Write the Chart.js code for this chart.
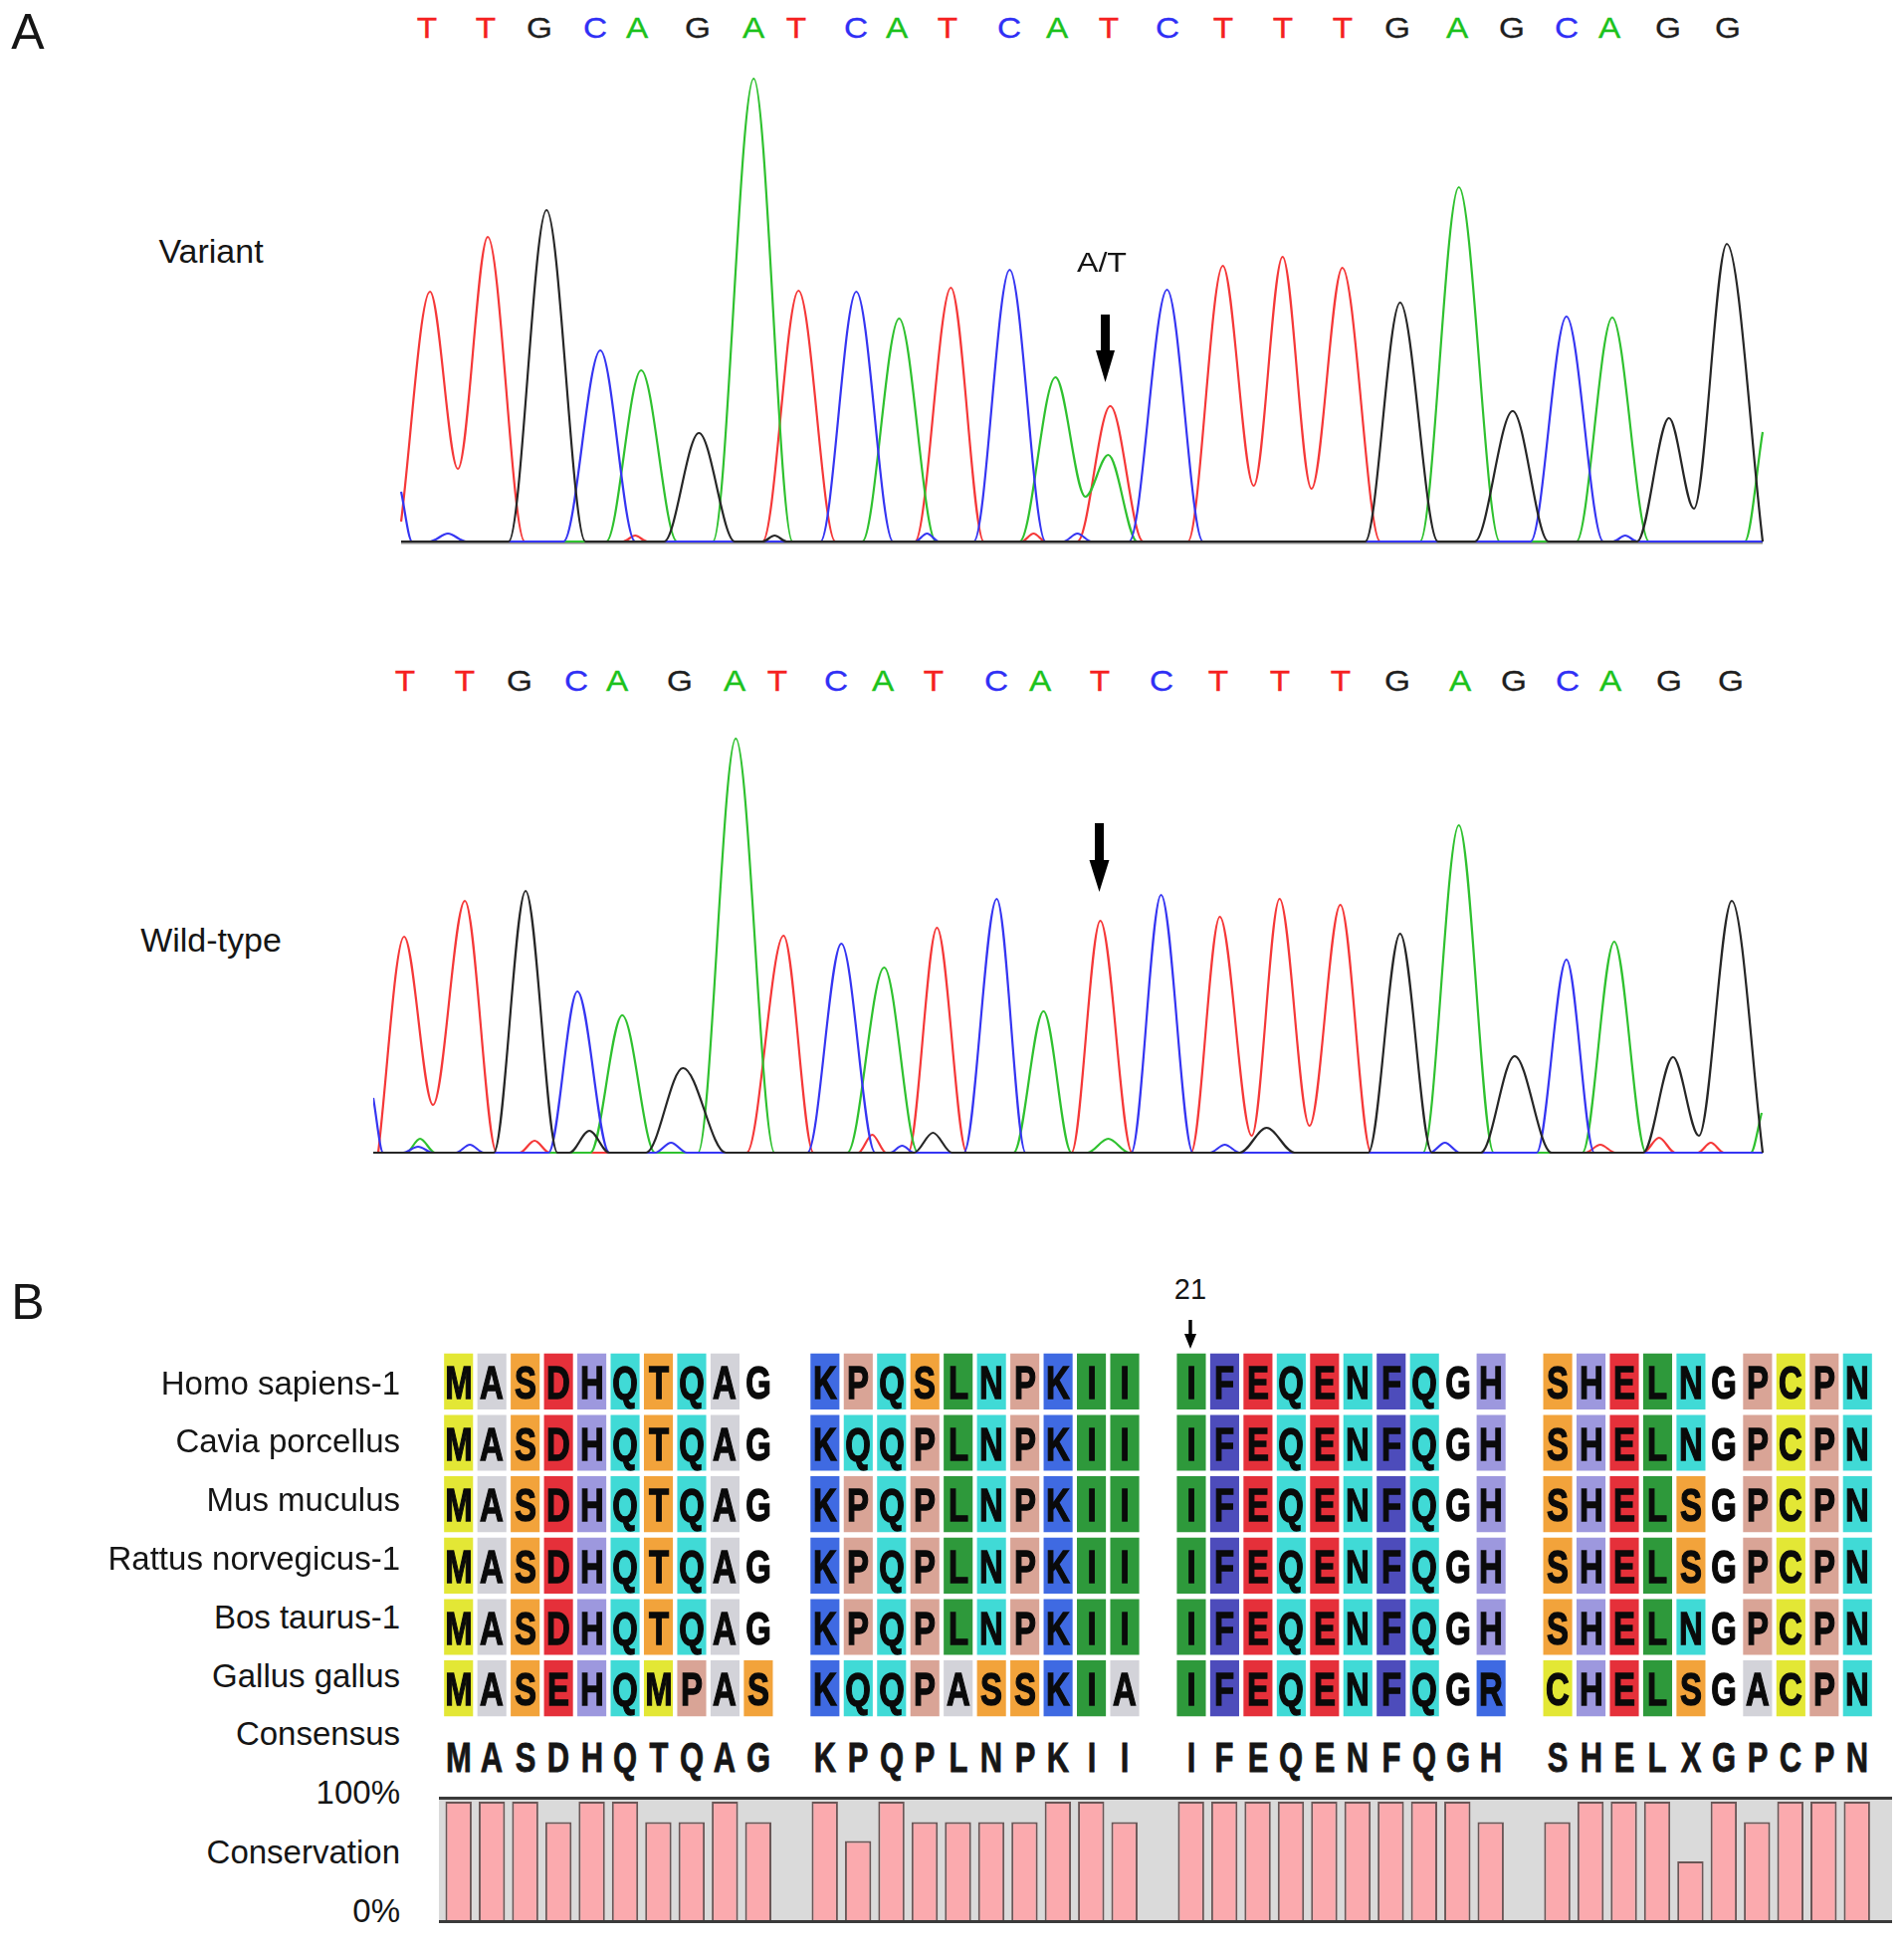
<!DOCTYPE html>
<html>
<head>
<meta charset="utf-8">
<script src="https://cdn.jsdelivr.net/npm/chart.js@4.4.1/dist/chart.umd.min.js"></script>
<style>
  body { margin: 0; background: #fff; }
  #fig { position: relative; width: 1913px; height: 1956px; overflow: hidden;
         font-family: "Liberation Sans", Arial, Helvetica, sans-serif; color: #151515; }
  #fig canvas { position: absolute; }
  .lbl { position: absolute; white-space: nowrap; line-height: 1; }
</style>
</head>
<body>
<div id="fig"></div>
<script>
// ---- Panel A: sequencing traces, [scan, signal] ----
const variantT = [[3, 20], [32, 251], [60, 73], [90, 306], [127, 0], [226, 0], [238, 6], [250, 0],
  [366, 0], [402, 252], [439, 0], [519, 0], [555, 255], [588, 0], [626, 0], [638, 8], [650, 0],
  [682, 0], [715, 136], [748, 0], [793, 0], [828, 277], [859, 56], [888, 286], [917, 53],
  [948, 275], [986, 0], [1370, 0]];
const variantC = [[3, 50], [14, 0], [32, 0], [50, 8], [68, 0], [166, 0], [203, 192], [238, 0],
  [424, 0], [460, 251], [497, 0], [519, 0], [531, 8], [543, 0], [578, 0], [614, 273], [650, 0],
  [668, 0], [682, 8], [696, 0], [734, 0], [772, 253], [808, 0], [1137, 0], [1173, 226], [1210, 0],
  [1220, 0], [1232, 6], [1244, 0], [1370, 0]];
const variantA = [[3, 0], [209, 0], [244, 172], [280, 0], [316, 0], [357, 465], [396, 0],
  [466, 0], [503, 224], [540, 0], [624, 0], [660, 165], [690, 45], [713, 87], [742, 0],
  [1026, 0], [1065, 356], [1106, 0], [1183, 0], [1219, 225], [1256, 0], [1352, 0], [1370, 110]];
const variantG = [[3, 0], [111, 0], [149, 333], [188, 0], [267, 0], [302, 109], [338, 0],
  [366, 0], [378, 6], [390, 0], [971, 0], [1006, 240], [1044, 0], [1081, 0], [1119, 131], [1155, 0],
  [1244, 0], [1276, 124], [1301, 33], [1334, 299], [1370, 0]];

const wildT = [[-20, 0], [6, 217], [35, 48], [67, 253], [99, 0], [122, 0], [137, 12], [152, 0],
  [350, 0], [387, 218], [417, 0], [462, 0], [476, 18], [490, 0], [512, 0], [541, 226], [571, 0],
  [676, 0], [705, 233], [737, 0], [796, 0], [825, 237], [857, 17], [885, 255], [915, 27],
  [946, 249], [977, 0], [1192, 0], [1207, 8], [1222, 0], [1250, 0], [1266, 15], [1282, 0],
  [1305, 0], [1318, 10], [1331, 0], [1370, 0]];
const wildC = [[-25, 55], [-15, 0], [5, 0], [20, 6], [35, 0], [58, 0], [72, 8], [86, 0],
  [151, 0], [180, 162], [212, 0], [258, 0], [274, 10], [290, 0], [411, 0], [445, 210], [479, 0],
  [494, 0], [506, 7], [518, 0], [568, 0], [601, 255], [630, 0], [736, 0], [766, 259], [798, 0],
  [815, 0], [830, 8], [845, 0], [1036, 0], [1051, 10], [1066, 0], [1143, 0], [1173, 194], [1201, 0],
  [1370, 0]];
const wildA = [[-25, 0], [8, 0], [22, 14], [37, 0], [193, 0], [225, 138], [258, 0],
  [301, 0], [339, 416], [378, 0], [451, 0], [488, 186], [522, 0], [618, 0], [648, 142], [676, 0],
  [692, 0], [713, 14], [734, 0], [1029, 0], [1065, 329], [1100, 0], [1189, 0], [1221, 212],
  [1253, 0], [1358, 0], [1369, 40]];
const wildG = [[-25, 0], [96, 0], [128, 263], [160, 0], [172, 0], [192, 22], [212, 0],
  [249, 0], [286, 85], [329, 0], [518, 0], [537, 20], [556, 0], [845, 0], [872, 25], [900, 0],
  [974, 0], [1006, 220], [1038, 0], [1087, 0], [1121, 97], [1158, 0],
  [1250, 0], [1280, 96], [1306, 17], [1339, 253], [1370, 0]];

// base calls and where they sit along the scan axis
const baseCalls = 'TTGCAGATCATCATCTTTGAGCAGG'.split('');
const variantBaseScan = [29, 88, 142, 198, 240, 301, 357, 400, 460, 501, 552, 614, 662, 713,
  772, 828, 888, 948, 1003, 1063, 1118, 1173, 1216, 1275, 1335];
const wildBaseScan = [7, 67, 122, 179, 220, 283, 338, 381, 440, 487, 538, 601, 645, 704,
  766, 823, 885, 946, 1003, 1066, 1120, 1174, 1217, 1276, 1338];
const mutationScan = { variant: 710, wild: 704 };

// ---- Panel B: alignment ----
const species = ['Homo sapiens-1', 'Cavia porcellus', 'Mus muculus',
  'Rattus norvegicus-1', 'Bos taurus-1', 'Gallus gallus'];
const sequences = [
  'MASDHQTQAG KPQSLNPKII IFEQENFQGH SHELNGPCPN',
  'MASDHQTQAG KQQPLNPKII IFEQENFQGH SHELNGPCPN',
  'MASDHQTQAG KPQPLNPKII IFEQENFQGH SHELSGPCPN',
  'MASDHQTQAG KPQPLNPKII IFEQENFQGH SHELSGPCPN',
  'MASDHQTQAG KPQPLNPKII IFEQENFQGH SHELNGPCPN',
  'MASEHQMPAS KQQPASSKIA IFEQENFQGR CHELSGACPN'
];
const consensus = 'MASDHQTQAG KPQPLNPKII IFEQENFQGH SHELXGPCPN';
const conservation = [100, 100, 100, 83, 100, 100, 83, 83, 100, 83, null,
  100, 67, 100, 83, 83, 83, 83, 100, 100, 83, null,
  100, 100, 100, 100, 100, 100, 100, 100, 100, 83, null,
  83, 100, 100, 100, 50, 100, 83, 100, 100, 100];
const markedResidue = 21;

// colours
const traceColors = { A: '#2fc12f', C: '#3535f2', G: '#262626', T: '#f53838' };
const baseColors = { A: '#1cc21c', C: '#2f2ff5', G: '#1e1e1e', T: '#f52020' };
const residueColors = {
  M: '#e3e735', C: '#e3e735', A: '#d3d3d9', S: '#f2a33b', T: '#f2a33b',
  D: '#e5303a', E: '#e5303a', H: '#9d98de', Q: '#40dad6', N: '#40dad6',
  K: '#3f6ae2', R: '#3f6ae2', P: '#d9a496', L: '#2e993b', I: '#2e993b', F: '#4d4cbb'
};

const fig = document.getElementById('fig');

function addText(str, x, y, style, align) {
  const el = document.createElement('div');
  el.className = 'lbl';
  el.textContent = str;
  const sx = style && style.sx;
  const css = Object.assign({}, style || {});
  delete css.sx;
  Object.assign(el.style, css);
  el.style.top = y + 'px';
  if (align === 'right') {
    el.style.right = (1913 - x) + 'px';
    el.style.transform = 'translateY(-50%)';
  } else {
    el.style.left = x + 'px';
    el.style.transform = 'translate(-50%,-50%)' + (sx ? ' scaleX(' + sx + ')' : '');
  }
  fig.appendChild(el);
  return el;
}

function makeCanvas(left, top, w, h) {
  const c = document.createElement('canvas');
  c.width = w; c.height = h;
  c.style.left = left + 'px'; c.style.top = top + 'px';
  c.style.width = w + 'px'; c.style.height = h + 'px';
  fig.appendChild(c);
  return c;
}

// black arrow drawn against the trace scales
const arrowPlugin = {
  id: 'arrow',
  afterDatasetsDraw(chart, args, opts) {
    if (opts.scan == null) return;
    const { ctx, scales: { x, y } } = chart;
    const cx = x.getPixelForValue(opts.scan);
    const yTop = y.getPixelForValue(opts.top);
    const yNeck = y.getPixelForValue(opts.neck);
    const yTip = y.getPixelForValue(opts.tip);
    ctx.save();
    ctx.fillStyle = '#000';
    ctx.fillRect(cx - opts.shaft / 2, yTop, opts.shaft, yNeck - yTop + 1);
    ctx.beginPath();
    ctx.moveTo(cx - opts.head / 2, yNeck);
    ctx.lineTo(cx + opts.head / 2, yNeck);
    ctx.lineTo(cx, yTip);
    ctx.closePath();
    ctx.fill();
    ctx.restore();
  }
};

// grey zero line under the variant trace
const baselinePlugin = {
  id: 'baseline',
  beforeDatasetsDraw(chart, args, opts) {
    if (opts.from == null) return;
    const { ctx, scales: { x, y } } = chart;
    ctx.save();
    ctx.strokeStyle = opts.color;
    ctx.lineWidth = opts.width;
    ctx.beginPath();
    ctx.moveTo(x.getPixelForValue(opts.from), y.getPixelForValue(0) + 1);
    ctx.lineTo(x.getPixelForValue(opts.to), y.getPixelForValue(0) + 1);
    ctx.stroke();
    ctx.restore();
  }
};

function traceChart(canvas, traces, yMax, arrow, baseline) {
  const datasets = traces.map(t => ({
    data: t.points.map(p => ({ x: p[0], y: p[1] })),
    borderColor: traceColors[t.base],
    borderWidth: 2.2,
    pointRadius: 0,
    cubicInterpolationMode: 'monotone',
    fill: false
  }));
  return new Chart(canvas, {
    type: 'line',
    data: { datasets },
    options: {
      responsive: false,
      animation: false,
      devicePixelRatio: 1,
      layout: { padding: 0 },
      plugins: {
        legend: { display: false },
        tooltip: { enabled: false },
        arrow: arrow,
        baseline: baseline || {}
      },
      scales: {
        x: { type: 'linear', min: -25, max: 1371, display: false },
        y: { min: -4, max: yMax, display: false }
      }
    },
    plugins: [baselinePlugin, arrowPlugin]
  });
}

// ---------- Panel A ----------
addText('A', 28, 32, { fontSize: '50px' });
addText('Variant', 212, 252, { fontSize: '34px' });
addText('Wild-type', 212, 944, { fontSize: '34px' });

const traceLeft = 375;
const variantCanvas = makeCanvas(traceLeft, 70, 1397, 478);
const variantChart = traceChart(variantCanvas, [
  { base: 'G', points: variantG }, { base: 'C', points: variantC },
  { base: 'A', points: variantA }, { base: 'T', points: variantT }
], 474, { scan: mutationScan.variant, top: 228, neck: 192, tip: 160, shaft: 9, head: 19 },
  { from: 3, to: 1370, color: '#8a8a8a', width: 3 });

const wildCanvas = makeCanvas(traceLeft, 738, 1397, 424);
const wildChart = traceChart(wildCanvas, [
  { base: 'G', points: wildG }, { base: 'C', points: wildC },
  { base: 'A', points: wildA }, { base: 'T', points: wildT }
], 420, { scan: mutationScan.wild, top: 331, neck: 294, tip: 262, shaft: 9, head: 20 });

baseCalls.forEach((b, i) => {
  const st = { fontSize: '29px', color: baseColors[b], sx: 1.15, webkitTextStroke: '0.3px ' + baseColors[b] };
  addText(b, traceLeft + variantChart.scales.x.getPixelForValue(variantBaseScan[i]), 28, st);
  addText(b, traceLeft + wildChart.scales.x.getPixelForValue(wildBaseScan[i]), 684, st);
});
addText('A/T', traceLeft + variantChart.scales.x.getPixelForValue(mutationScan.variant) - 4, 264,
  { fontSize: '28px', sx: 1.15 });

// ---------- Panel B ----------
addText('B', 28, 1308, { fontSize: '50px' });

const columnLabels = consensus.split('').map((_, i) => i + 1);
const gridLeft = 444, gridTop = 1357;
const gridCanvas = makeCanvas(gridLeft, gridTop, 1439, 370);
const gridChart = new Chart(gridCanvas, {
  type: 'bar',
  data: {
    labels: columnLabels,
    datasets: sequences.map((seq, r) => ({
      data: seq.split('').map(ch => ch === ' ' ? null : [r + 0.045, r + 0.955]),
      backgroundColor: seq.split('').map(ch => residueColors[ch] || 'rgba(255,255,255,0)'),
      borderWidth: 0,
      grouped: false,
      barPercentage: 0.87,
      categoryPercentage: 1
    }))
  },
  options: {
    responsive: false,
    animation: false,
    devicePixelRatio: 1,
    layout: { padding: 0 },
    plugins: { legend: { display: false }, tooltip: { enabled: false } },
    scales: {
      x: { display: false },
      y: { min: 0, max: 6, reverse: true, display: false }
    }
  }
});

const gx = gridChart.scales.x, gy = gridChart.scales.y;
sequences.forEach((seq, r) => {
  seq.split('').forEach((ch, c) => {
    if (ch === ' ') return;
    addText(ch, gridLeft + gx.getPixelForValue(c), gridTop + gy.getPixelForValue(r + 0.5),
      { fontSize: '47px', fontWeight: 'bold', color: '#0a0a0a', sx: 0.7,
        webkitTextStroke: '1.4px #0a0a0a' });
  });
});
consensus.split('').forEach((ch, c) => {
  if (ch === ' ') return;
  addText(ch, gridLeft + gx.getPixelForValue(c), gridTop + gy.getPixelForValue(6.62),
    { fontSize: '43px', fontWeight: 'bold', color: '#161616', sx: 0.72,
      webkitTextStroke: '0.8px #161616' });
});

// residue marker: column holding residue number markedResidue
let markCol = 0;
for (let c = 0, n = 0; c < consensus.length; c++) {
  if (consensus[c] !== ' ') n++;
  if (n === markedResidue) { markCol = c; break; }
}
const markX = gridLeft + gx.getPixelForValue(markCol);
addText(String(markedResidue), markX - 1, 1295, { fontSize: '29px' });
const arrowEl = document.createElement('div');
arrowEl.style.cssText = 'position:absolute;left:' + (markX - 9) + 'px;top:1325px;width:16px;height:32px;';
arrowEl.innerHTML = '<svg width="16" height="32" viewBox="0 0 16 32">' +
  '<rect x="6.3" y="1" width="3.4" height="17" fill="#000"/>' +
  '<polygon points="2,15 14,15 8,30" fill="#000"/></svg>';
fig.appendChild(arrowEl);

// row labels
const labelY = [1389, 1447, 1506, 1565, 1624, 1683];
species.forEach((s, i) => addText(s, 402, labelY[i], { fontSize: '33px' }, 'right'));
addText('Consensus', 402, 1741, { fontSize: '33px' }, 'right');
addText('100%', 402, 1800, { fontSize: '33px' }, 'right');
addText('Conservation', 402, 1860, { fontSize: '33px' }, 'right');
addText('0%', 402, 1919, { fontSize: '33px' }, 'right');

// conservation bars
const consPanel = {
  id: 'consPanel',
  beforeDatasetsDraw(chart) {
    const { ctx, chartArea } = chart;
    ctx.save();
    ctx.fillStyle = '#dadada';
    ctx.fillRect(0, chartArea.top - 4, chart.width, chartArea.bottom - chartArea.top + 4);
    ctx.restore();
  },
  afterDatasetsDraw(chart) {
    const { ctx, chartArea } = chart;
    ctx.save();
    ctx.fillStyle = '#3a3a3a';
    ctx.fillRect(0, chartArea.top - 5, chart.width, 3);
    ctx.fillRect(0, chartArea.bottom - 1, chart.width, 3);
    ctx.restore();
  }
};
const consCanvas = makeCanvas(441, 1804, 1460, 132);
new Chart(consCanvas, {
  type: 'bar',
  data: {
    labels: columnLabels,
    datasets: [{
      data: conservation,
      backgroundColor: '#fbaaae',
      borderColor: '#6a5656',
      borderWidth: 2,
      barPercentage: 0.79,
      categoryPercentage: 1
    }]
  },
  options: {
    responsive: false,
    animation: false,
    devicePixelRatio: 1,
    layout: { padding: { left: 3, right: 18.6, top: 6, bottom: 6 } },
    plugins: { legend: { display: false }, tooltip: { enabled: false } },
    scales: {
      x: { display: false },
      y: { min: 0, max: 100, display: false }
    }
  },
  plugins: [consPanel]
});
</script>
</body>
</html>
